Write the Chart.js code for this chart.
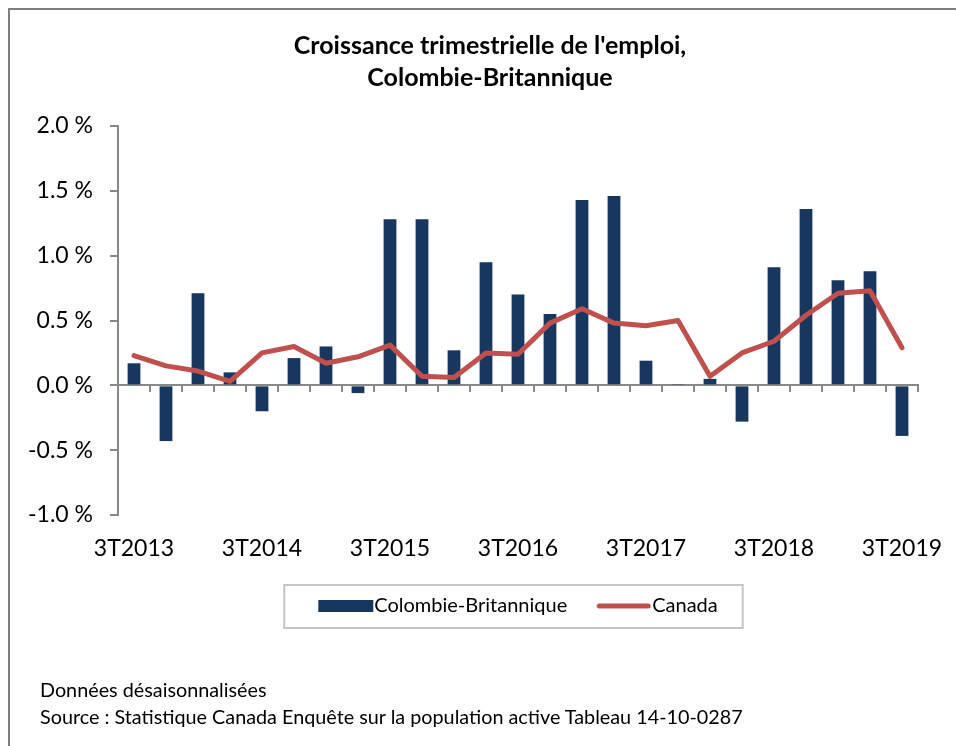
<!DOCTYPE html>
<html><head><meta charset="utf-8">
<script src="https://cdn.jsdelivr.net/npm/chart.js@4.4.1/dist/chart.umd.min.js"></script>
<style>
html,body{margin:0;padding:0;background:#fff;width:956px;height:746px;overflow:hidden;}
#frame{position:absolute;left:8px;top:8px;width:1000px;height:800px;border:2px solid #7f7f7f;box-sizing:border-box;}
#c{position:absolute;left:0;top:0;}
#foot{position:absolute;left:40px;top:676px;font-family:Lato;font-size:19.8px;line-height:27px;color:#000;white-space:nowrap;}
</style></head><body>
<div id="frame"></div>
<canvas id="c" width="980" height="746"></canvas>
<div id="foot">Données désaisonnalisées<br>Source : Statistique Canada Enquête sur la population active Tableau 14-10-0287</div>
<script>
const quarters = ['3T2013','4T2013','1T2014','2T2014','3T2014','4T2014','1T2015','2T2015','3T2015','4T2015','1T2016','2T2016','3T2016','4T2016','1T2017','2T2017','3T2017','4T2017','1T2018','2T2018','3T2018','4T2018','1T2019','2T2019','3T2019'];
const colombieBritannique = [0.17,-0.43,0.71,0.10,-0.20,0.21,0.30,-0.06,1.28,1.28,0.27,0.95,0.70,0.55,1.43,1.46,0.19,0.01,0.05,-0.28,0.91,1.36,0.81,0.88,-0.39];
const canada = [0.23,0.15,0.11,0.03,0.25,0.30,0.17,0.22,0.31,0.07,0.06,0.25,0.24,0.48,0.59,0.48,0.46,0.50,0.07,0.25,0.34,0.54,0.71,0.73,0.29];
const titleLines = ["Croissance trimestrielle de l'emploi,", 'Colombie-Britannique'];
const seriesNames = ['Colombie-Britannique', 'Canada'];

const barColor = '#17375e';
const lineColor = '#c0504d';
const axisGray = '#898989';

Chart.defaults.font.family = 'Lato';
Chart.defaults.color = '#000';

// legend swatches: 56px wide, drawn in the right part of a 66px image
function makeSwatch(kind) {
  const cv = document.createElement('canvas');
  cv.width = 66; cv.height = 12;
  const g = cv.getContext('2d');
  if (kind === 'bar') {
    g.fillStyle = barColor;
    g.fillRect(10, 0, 55, 12);
  } else {
    g.strokeStyle = lineColor; g.lineWidth = 5; g.lineCap = 'round';
    g.beginPath(); g.moveTo(13, 6); g.lineTo(62, 6); g.stroke();
  }
  return cv;
}
const swatchBar = makeSwatch('bar');
const swatchLine = makeSwatch('line');

const legendFrame = {
  id: 'legendFrame',
  afterDraw(chart) {
    const lg = chart.legend;
    if (!lg || !lg.legendHitBoxes || !lg.legendHitBoxes.length) return;
    const hb = lg.legendHitBoxes;
    const l = Math.min(...hb.map(b => b.left)) - 34;
    const r = Math.max(...hb.map(b => b.left + b.width)) + 25;
    const cy = hb[0].top + hb[0].height / 2;
    const ctx = chart.ctx;
    ctx.save();
    ctx.strokeStyle = '#c6c6c6';
    ctx.lineWidth = 2;
    ctx.strokeRect(l, cy - 21, r - l, 43);
    ctx.restore();
  }
};

new Chart(document.getElementById('c'), {
  data: {
    labels: quarters,
    datasets: [
      {
        type: 'line', label: seriesNames[1], data: canada, order: 0,
        borderColor: lineColor, backgroundColor: lineColor, borderWidth: 5,
        pointRadius: 0, tension: 0, borderCapStyle: 'round', borderJoinStyle: 'round',
        xAxisID: 'x', yAxisID: 'y'
      },
      {
        type: 'bar', label: seriesNames[0], data: colombieBritannique, order: 1,
        backgroundColor: barColor, borderWidth: 0,
        barPercentage: 0.4, categoryPercentage: 1.0,
        xAxisID: 'x', yAxisID: 'y'
      }
    ]
  },
  options: {
    responsive: false,
    animation: false,
    devicePixelRatio: 1,
    layout: { padding: { top: 30, left: 0, right: 0, bottom: 120 } },
    scales: {
      x: {
        type: 'category', position: { y: 0 }, offset: true, z: 1,
        grid: { offset: true, drawOnChartArea: false, drawTicks: true, tickLength: 6, color: axisGray, lineWidth: 2 },
        border: { display: true, color: axisGray, width: 2 },
        ticks: { display: false }
      },
      x2: {
        type: 'category', position: 'bottom', offset: true, labels: quarters,
        afterFit: s => { s.height = 52; },
        grid: { display: false, drawTicks: false },
        border: { display: false },
        ticks: {
          autoSkip: false, maxRotation: 0, minRotation: 0, padding: 16,
          font: { size: 23, lineHeight: 1.55 }, color: '#000',
          callback: function (v, i) { return i % 4 === 0 ? this.getLabelForValue(v) : ''; }
        }
      },
      y: {
        type: 'linear', position: 'left', min: -1, max: 2,
        afterFit: s => { s.width = 118; },
        grid: { drawOnChartArea: false, drawTicks: true, tickLength: 8, color: axisGray, lineWidth: 2 },
        border: { display: true, color: axisGray, width: 2 },
        ticks: {
          stepSize: 0.5, padding: 17, font: { size: 23 }, color: '#000',
          callback: v => v.toFixed(1) + ' %'
        }
      },
      // empty right-hand space so the title centres where the original does
      yRight: {
        type: 'linear', position: 'right', display: true,
        afterFit: s => { s.width = 62; },
        grid: { display: false, drawTicks: false },
        border: { display: false },
        ticks: { display: false }
      }
    },
    plugins: {
      title: {
        display: true, text: titleLines, color: '#000',
        font: { size: 25, weight: 'bold', lineHeight: '32px' },
        padding: { top: 0, bottom: 32 }
      },
      legend: {
        display: true, position: 'bottom', fullSize: false, reverse: true,
        labels: {
          usePointStyle: true, pointStyleWidth: 46, boxHeight: 12, padding: 29,
          font: { size: 20 }, color: '#000',
          generateLabels(chart) {
            const items = Chart.defaults.plugins.legend.labels.generateLabels(chart);
            items.forEach(it => {
              it.pointStyle = it.text === seriesNames[0] ? swatchBar : swatchLine;
              it.lineWidth = 0;
            });
            return items;
          }
        }
      },
      tooltip: { enabled: false }
    }
  },
  plugins: [legendFrame]
});
</script>
</body></html>
